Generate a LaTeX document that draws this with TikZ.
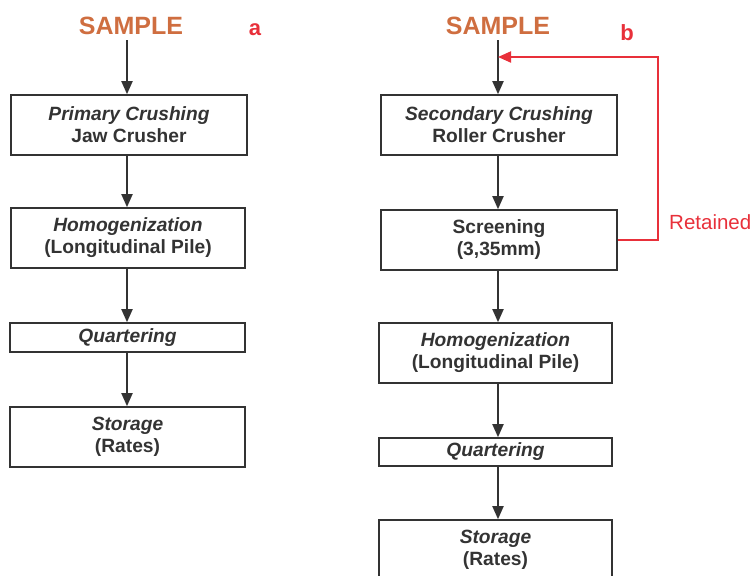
\documentclass[tikz,border=0pt]{standalone}
\usepackage{fontspec}
\setmainfont{Liberation Sans}
\usetikzlibrary{arrows.meta}
\definecolor{ink}{HTML}{333333}
\definecolor{samp}{HTML}{CF6E40}
\definecolor{redc}{HTML}{E8303A}
\begin{document}
\begin{tikzpicture}[x=1pt,y=-1pt,
  box/.style={draw=ink, line width=1.6pt, text=ink, align=center, inner sep=0pt,
    font=\fontsize{19.2}{22}\selectfont\bfseries},
  samplabel/.style={text=samp, font=\fontsize{25}{28}\selectfont\bfseries, inner sep=0pt},
  letter/.style={text=redc, font=\fontsize{22}{26}\selectfont\bfseries, inner sep=0pt},
  flow/.style={draw=ink, line width=1.8pt, -{Triangle[length=13pt,width=11pt]}},
  loopflow/.style={draw=redc, line width=2pt, -{Triangle[length=13pt,width=11pt]}}]
\useasboundingbox (0,0) rectangle (753,576);

% ---------- a ----------
\node[samplabel] (sA) at (131,26) {SAMPLE};
\node[letter] (la) at (255,30) {a};
\coordinate (sAo) at (127,40);
\node[box, minimum width=236pt, minimum height=60pt] (a1) at (129,125)
  {\itshape Primary Crushing\\Jaw Crusher};
\node[box, minimum width=234pt, minimum height=60pt] (a2) at (128,238)
  {\itshape Homogenization\\(Longitudinal Pile)};
\node[box, minimum width=235pt, minimum height=29pt] (a3) at (127.5,337.5)
  {\itshape Quartering};
\node[box, minimum width=235pt, minimum height=60pt] (a4) at (127.5,437)
  {\itshape Storage\\(Rates)};

\draw[flow] (sAo) -- (sAo |- a1.north);
\draw[flow] (sAo |- a1.south) -- (sAo |- a2.north);
\draw[flow] (sAo |- a2.south) -- (sAo |- a3.north);
\draw[flow] (sAo |- a3.south) -- (sAo |- a4.north);

% ---------- b ----------
\node[samplabel] (sB) at (498,26) {SAMPLE};
\node[letter] (lb) at (627,33) {b};
\coordinate (sBo) at (498,40);
\node[box, minimum width=236pt, minimum height=60pt] (b1) at (499,125)
  {\itshape Secondary Crushing\\Roller Crusher};
\node[box, minimum width=236pt, minimum height=60pt] (b2) at (499,240)
  {Screening\\(3,35mm)};
\node[box, minimum width=233pt, minimum height=60pt] (b3) at (495.5,353)
  {\itshape Homogenization\\(Longitudinal Pile)};
\node[box, minimum width=233pt, minimum height=28pt] (b4) at (495.5,452)
  {\itshape Quartering};
\node[box, minimum width=233pt, minimum height=60pt] (b5) at (495.5,550)
  {\itshape Storage\\(Rates)};

\draw[flow] (sBo) -- (sBo |- b1.north);
\draw[flow] (sBo |- b1.south) -- (sBo |- b2.north);
\draw[flow] (sBo |- b2.south) -- (sBo |- b3.north);
\draw[flow] (sBo |- b3.south) -- (sBo |- b4.north);
\draw[flow] (sBo |- b4.south) -- (sBo |- b5.north);

% retained loop
\coordinate (ret) at (498,57);
\coordinate (rc) at (658,240);
\draw[loopflow] (b2.east) -- (b2.east -| rc) |- (ret);
\node[text=redc, font=\fontsize{20.5}{24}\selectfont, inner sep=0pt, anchor=west] (rt) at (669,222) {Retained};
\end{tikzpicture}
\end{document}
